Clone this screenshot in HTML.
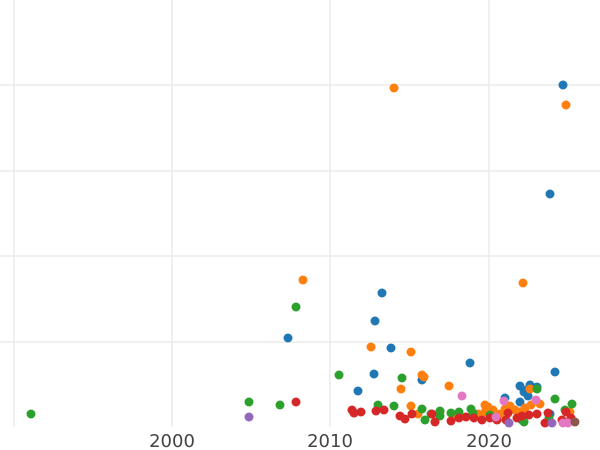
<!DOCTYPE html>
<html><head><meta charset="utf-8"><style>html,body{margin:0;padding:0;background:#fff;}svg{display:block}</style></head>
<body>
<svg width="600" height="450" xmlns="http://www.w3.org/2000/svg">
<g stroke="#ebebeb" stroke-width="1.5">
<line x1="0" y1="85" x2="600" y2="85"/><line x1="0" y1="171" x2="600" y2="171"/>
<line x1="0" y1="256" x2="600" y2="256"/><line x1="0" y1="342" x2="600" y2="342"/>
<line x1="14" y1="0" x2="14" y2="427"/><line x1="172" y1="0" x2="172" y2="427"/>
<line x1="330" y1="0" x2="330" y2="427"/><line x1="489" y1="0" x2="489" y2="427"/>
</g>
<g font-family="DejaVu Sans, Liberation Sans, sans-serif" font-size="18" fill="#444" text-anchor="middle">
<text x="172" y="447">2000</text><text x="330" y="447">2010</text><text x="489" y="447">2020</text>
</g>
<g fill="#1f77b4">
<circle cx="563" cy="85" r="4.5"/><circle cx="550" cy="194" r="4.5"/><circle cx="382" cy="293" r="4.5"/><circle cx="375" cy="321" r="4.5"/><circle cx="288" cy="338" r="4.5"/><circle cx="391" cy="348" r="4.5"/><circle cx="470" cy="363" r="4.5"/><circle cx="374" cy="374" r="4.5"/><circle cx="555" cy="372" r="4.5"/><circle cx="358" cy="391" r="4.5"/><circle cx="422" cy="380" r="4.5"/><circle cx="520" cy="386" r="4.5"/><circle cx="524" cy="392" r="4.5"/><circle cx="527" cy="390" r="4.5"/><circle cx="537" cy="387" r="4.5"/><circle cx="505" cy="398" r="4.5"/><circle cx="530" cy="385" r="4.5"/><circle cx="520" cy="402" r="4.5"/><circle cx="550" cy="414" r="4.5"/><circle cx="522" cy="420" r="4.5"/><circle cx="528" cy="396" r="4.5"/>
</g>
<g fill="#ff7f0e">
<circle cx="394" cy="88" r="4.5"/><circle cx="566" cy="105" r="4.5"/><circle cx="303" cy="280" r="4.5"/><circle cx="523" cy="283" r="4.5"/><circle cx="371" cy="347" r="4.5"/><circle cx="411" cy="352" r="4.5"/><circle cx="422" cy="375" r="4.5"/><circle cx="424" cy="377" r="4.5"/><circle cx="449" cy="386" r="4.5"/><circle cx="401" cy="389" r="4.5"/><circle cx="530" cy="389" r="4.5"/><circle cx="411" cy="406" r="4.5"/><circle cx="418" cy="414" r="4.5"/><circle cx="440" cy="412" r="4.5"/><circle cx="457" cy="415" r="4.5"/><circle cx="488" cy="407" r="4.5"/><circle cx="485" cy="412" r="4.5"/><circle cx="478" cy="414" r="4.5"/><circle cx="510" cy="406" r="4.5"/><circle cx="515" cy="410" r="4.5"/><circle cx="525" cy="408" r="4.5"/><circle cx="531" cy="405" r="4.5"/><circle cx="540" cy="404" r="4.5"/><circle cx="520" cy="412" r="4.5"/><circle cx="570" cy="412" r="4.5"/><circle cx="500" cy="414" r="4.5"/><circle cx="485" cy="405" r="4.5"/><circle cx="493" cy="410" r="4.5"/><circle cx="505" cy="409" r="4.5"/>
</g>
<g fill="#2ca02c">
<circle cx="31" cy="414" r="4.5"/><circle cx="249" cy="402" r="4.5"/><circle cx="280" cy="405" r="4.5"/><circle cx="296" cy="307" r="4.5"/><circle cx="339" cy="375" r="4.5"/><circle cx="402" cy="378" r="4.5"/><circle cx="378" cy="405" r="4.5"/><circle cx="394" cy="406" r="4.5"/><circle cx="354" cy="413" r="4.5"/><circle cx="422" cy="409" r="4.5"/><circle cx="425" cy="420" r="4.5"/><circle cx="431" cy="414" r="4.5"/><circle cx="440" cy="411" r="4.5"/><circle cx="451" cy="413" r="4.5"/><circle cx="459" cy="412" r="4.5"/><circle cx="471" cy="409" r="4.5"/><circle cx="473" cy="413" r="4.5"/><circle cx="490" cy="415" r="4.5"/><circle cx="537" cy="389" r="4.5"/><circle cx="555" cy="399" r="4.5"/><circle cx="572" cy="404" r="4.5"/><circle cx="524" cy="422" r="4.5"/><circle cx="549" cy="418" r="4.5"/><circle cx="565" cy="410" r="4.5"/><circle cx="440" cy="416" r="4.5"/>
</g>
<g fill="#d62728">
<circle cx="296" cy="402" r="4.5"/><circle cx="352" cy="410" r="4.5"/><circle cx="354" cy="413" r="4.5"/><circle cx="361" cy="412" r="4.5"/><circle cx="376" cy="411" r="4.5"/><circle cx="384" cy="410" r="4.5"/><circle cx="400" cy="416" r="4.5"/><circle cx="405" cy="419" r="4.5"/><circle cx="435" cy="422" r="4.5"/><circle cx="451" cy="421" r="4.5"/><circle cx="459" cy="418" r="4.5"/><circle cx="474" cy="418" r="4.5"/><circle cx="482" cy="420" r="4.5"/><circle cx="490" cy="418" r="4.5"/><circle cx="497" cy="420" r="4.5"/><circle cx="508" cy="413" r="4.5"/><circle cx="506" cy="420" r="4.5"/><circle cx="517" cy="418" r="4.5"/><circle cx="522" cy="416" r="4.5"/><circle cx="529" cy="415" r="4.5"/><circle cx="537" cy="414" r="4.5"/><circle cx="545" cy="423" r="4.5"/><circle cx="548" cy="413" r="4.5"/><circle cx="566" cy="412" r="4.5"/><circle cx="571" cy="418" r="4.5"/><circle cx="562" cy="420" r="4.5"/><circle cx="412" cy="414" r="4.5"/><circle cx="432" cy="414" r="4.5"/><circle cx="466" cy="417" r="4.5"/>
</g>
<g fill="#9467bd">
<circle cx="249" cy="417" r="4.5"/><circle cx="509" cy="423" r="4.5"/><circle cx="552" cy="423" r="4.5"/>
</g>
<g fill="#e377c2">
<circle cx="462" cy="396" r="4.5"/><circle cx="504" cy="401" r="4.5"/><circle cx="536" cy="400" r="4.5"/><circle cx="496" cy="417" r="4.5"/><circle cx="563" cy="423" r="4.5"/><circle cx="568" cy="423" r="4.5"/>
</g>
<circle cx="575" cy="422" r="4.5" fill="#8c564b"/>
</svg>
</body></html>
